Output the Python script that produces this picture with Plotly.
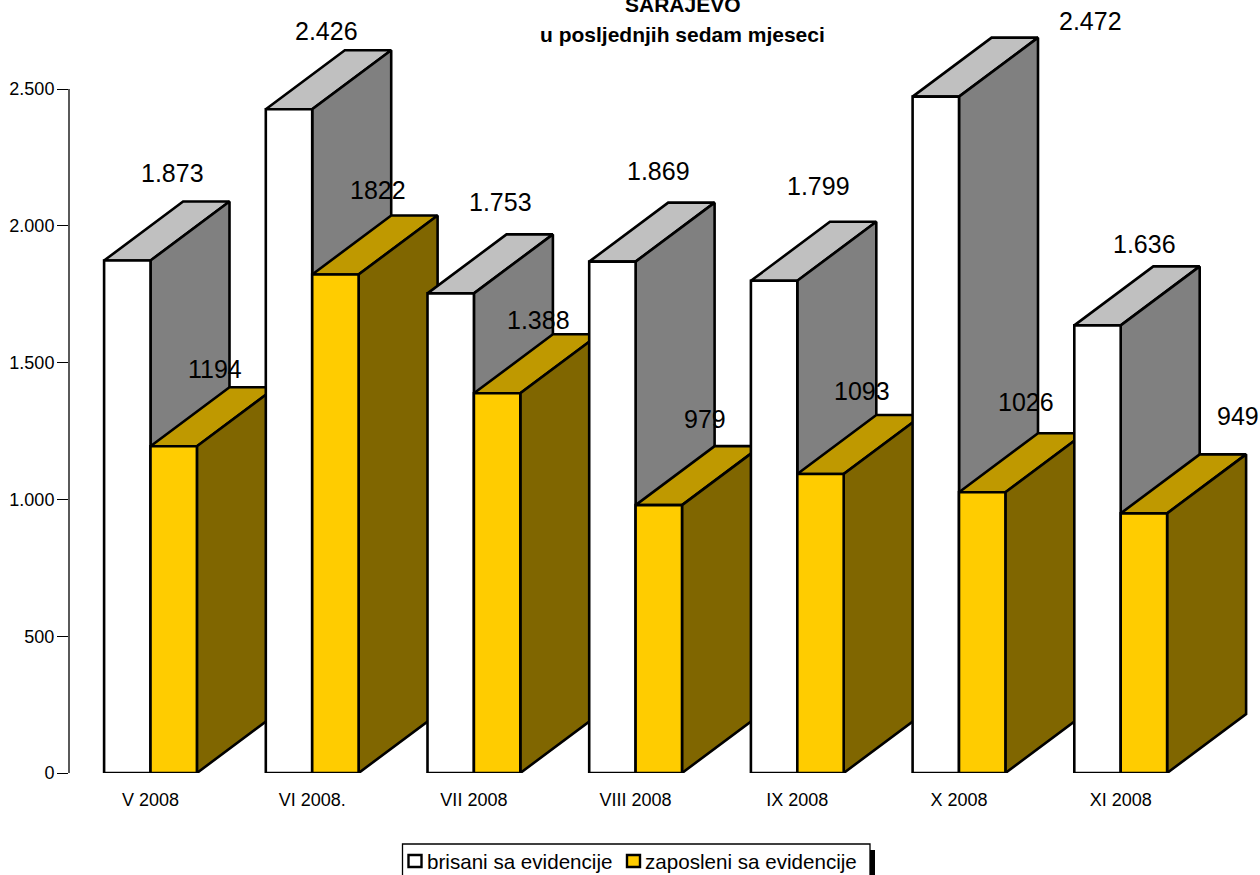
import plotly.graph_objects as go

months = ["V 2008", "VI 2008.", "VII 2008", "VIII 2008", "IX 2008", "X 2008", "XI 2008"]
brisani = [1873, 2426, 1753, 1869, 1799, 2472, 1636]
zaposleni = [1194, 1822, 1388, 979, 1093, 1026, 949]
brisani_labels = ["1.873", "2.426", "1.753", "1.869", "1.799", "2.472", "1.636"]
zaposleni_labels = ["1194", "1822", "1.388", "979", "1093", "1026", "949"]
y_ticks = [0, 500, 1000, 1500, 2000, 2500]
y_tick_labels = ["0", "500", "1.000", "1.500", "2.000", "2.500"]

# label nudges in pixels
brisani_dx = [21.5, 14, 27, 23, 21, 131, 24]
brisani_dy = [88, 78, 91, 91, 95, 76, 81]
zaposleni_dx = [64.5, 66, 65, 69, 65, 67, 117]
zaposleni_dy = [77, 85, 73, 86, 83, 90, 97]

W, H = 1260, 875
LEFT, BOTTOM = 69, 773
PX_X = 161.7
PX_Y = 684 / 2500
BAR = 46.4 / PX_X
DX = 79 / PX_X
DY = 59 / PX_Y
LW = 2.6


def px(x):
    return (x - LEFT) / (W - LEFT)


def py(y):
    return (BOTTOM - y) / BOTTOM


fig = go.Figure()


def face(xs, ys, color):
    fig.add_trace(go.Scatter(
        x=xs, y=ys, mode="lines", fill="toself", fillcolor=color,
        line=dict(color="black", width=LW), cliponaxis=False,
        showlegend=False, hoverinfo="skip",
    ))


def box(x0, value, front, side, top):
    x1 = x0 + BAR
    face([x0, x0 + DX, x1 + DX, x1, x0], [value, value + DY, value + DY, value, value], top)
    face([x1, x1 + DX, x1 + DX, x1, x1], [0, DY, value + DY, value, 0], side)
    face([x0, x1, x1, x0, x0], [0, 0, value, value, 0], front)


for i in range(len(months)):
    box(i - BAR, brisani[i], "#FFFFFF", "#808080", "#C0C0C0")
    box(i, zaposleni[i], "#FFCC00", "#806600", "#BF9900")

ann = []
for i in range(len(months)):
    ann.append(dict(x=i, y=brisani[i], text=brisani_labels[i], showarrow=False,
                    xshift=brisani_dx[i], yshift=brisani_dy[i], font=dict(size=25)))
    ann.append(dict(x=i, y=zaposleni[i], text=zaposleni_labels[i], showarrow=False,
                    xshift=zaposleni_dx[i], yshift=zaposleni_dy[i], font=dict(size=25)))

ann.append(dict(xref="paper", yref="paper", x=px(683), y=py(5), yanchor="middle", text="<b>SARAJEVO</b>",
                showarrow=False, font=dict(size=21)))
ann.append(dict(xref="paper", yref="paper", x=px(682), y=py(34), yanchor="middle",
                text="<b>u posljednjih sedam mjeseci</b>",
                showarrow=False, font=dict(size=21)))

legend_names = [("brisani sa evidencije", 425, "#FFFFFF", 408.5), ("zaposleni sa evidencije", 643, "#FFCC00", 627)]
shapes = [
    dict(type="line", xref="paper", yref="y", x0=0, x1=0, y0=0, y1=2500,
         line=dict(color="black", width=1.3)),
    dict(type="rect", xref="paper", yref="paper", x0=px(870), x1=px(875), y0=py(875), y1=py(850),
         fillcolor="black", line=dict(width=0)),
    dict(type="rect", xref="paper", yref="paper", x0=px(402.5), x1=px(870), y0=py(880), y1=py(844),
         fillcolor="white", line=dict(color="black", width=1.3)),
]
for name, tx, col, sx in legend_names:
    shapes.append(dict(type="rect", xref="paper", yref="paper", x0=px(sx), x1=px(sx + 13),
                       y0=py(867), y1=py(855), fillcolor=col, line=dict(color="black", width=2.4)))
    ann.append(dict(xref="paper", yref="paper", x=px(tx), y=py(861), text=name, xanchor="left", yanchor="middle",
                    showarrow=False, font=dict(size=20.6)))

x_start = -0.5 - (150.5 - LEFT - PX_X / 2) / PX_X
fig.update_layout(
    width=W, height=H, autosize=False,
    margin=dict(l=LEFT, r=0, t=0, b=H - BOTTOM, pad=0),
    paper_bgcolor="white", plot_bgcolor="white",
    showlegend=False,
    font=dict(family="Liberation Sans", color="black", size=18),
    xaxis=dict(range=[x_start, x_start + (W - LEFT) / PX_X],
               tickmode="array", tickvals=list(range(len(months))), ticktext=months,
               ticks="", showgrid=False, zeroline=False, showline=False, ticklabelstandoff=14,
               tickfont=dict(size=18)),
    yaxis=dict(range=[0, BOTTOM / PX_Y], tickmode="array", tickvals=y_ticks, ticktext=y_tick_labels,
               ticks="outside", ticklen=11, tickwidth=1.3, tickcolor="black", ticklabelstandoff=-1,
               showgrid=False, zeroline=False, showline=False, tickfont=dict(size=18)),
    annotations=ann, shapes=shapes,
)

fig.write_html("out.html", config=dict(displayModeBar=False),
               post_script="document.body.style.margin='0';")
